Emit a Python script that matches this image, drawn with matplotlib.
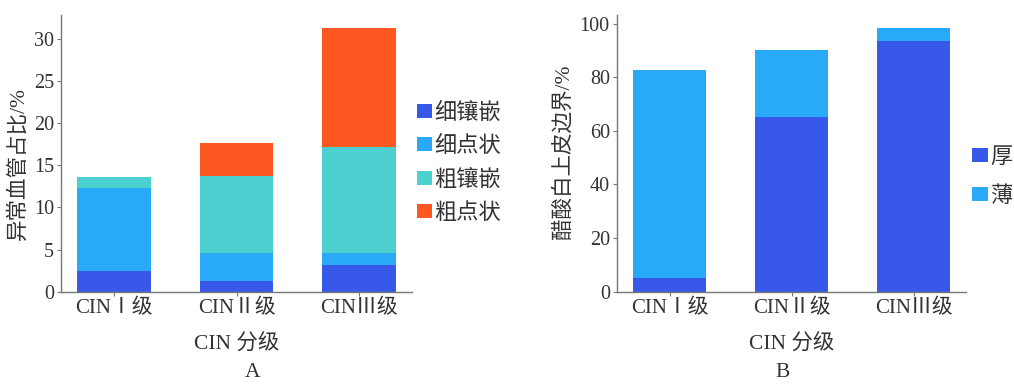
import matplotlib
matplotlib.use('Agg')
import matplotlib.pyplot as plt
import numpy as np

plt.rcParams['font.family'] = ['Liberation Serif', 'Noto Sans CJK SC', 'DejaVu Sans']

grades = ['CINⅠ级', 'CINⅡ级', 'CINⅢ级']

# panel A: abnormal vessel types, stacked
vessel_names = ['细镶嵌', '细点状', '粗镶嵌', '粗点状']
fine_mosaic = [2.45, 1.27, 3.13]
fine_punct = [9.87, 3.28, 1.49]
coarse_mosaic = [1.23, 9.15, 12.53]
coarse_punct = [0.0, 3.95, 14.05]
vessel_colors = ['#3858e9', '#28aaf9', '#4dd1d0', '#fe5722']

# panel B: acetowhite epithelium border
border_names = ['厚', '薄']
thick = [5.0, 65.2, 93.5]
thin = [77.6, 24.9, 4.7]
border_colors = ['#3858e9', '#28aaf9']

text_c = '#333333'
spine_c = '#777777'


def style_axes(ax):
    for s in ['top', 'right']:
        ax.spines[s].set_visible(False)
    for s in ['left', 'bottom']:
        ax.spines[s].set_color(spine_c)
        ax.spines[s].set_linewidth(1.0)
    ax.tick_params(axis='both', colors=spine_c, labelcolor=text_c,
                   length=3, width=0.8, labelsize=14.5, pad=2)
    ax.tick_params(axis='x', labelsize=15)
    ax.set_xlim(-0.434, 2.43)


def stacked(ax, series, colors, names):
    x = np.arange(len(grades))
    bottom = np.zeros(len(grades))
    for vals, c, n in zip(series, colors, names):
        ax.bar(x, vals, 0.6, bottom=bottom, color=c, label=n)
        bottom += np.array(vals)
    ax.set_xticks(x)
    ax.set_xticklabels(grades)


fig = plt.figure(figsize=(10.14, 3.84), dpi=100)

axA = fig.add_axes([0.0602, 0.2404, 0.3458, 0.7206])
stacked(axA, [fine_mosaic, fine_punct, coarse_mosaic, coarse_punct],
        vessel_colors, vessel_names)
style_axes(axA)
axA.set_ylim(0, 32.8)
axA.set_yticks([0, 5, 10, 15, 20, 25, 30])
axA.set_ylabel('异常血管占比/%', fontsize=15.5, color=text_c)
axA.yaxis.set_label_coords(-0.092, 0.465)
axA.set_xlabel('CIN 分级', fontsize=15.5, color=text_c, labelpad=12)
axA.legend(loc='center left', bbox_to_anchor=(0.411, 0.575),
           bbox_transform=fig.transFigure, frameon=False, borderpad=0,
           borderaxespad=0, fontsize=16, handlelength=0.7, handleheight=0.6,
           handletextpad=0.1, labelspacing=0.56, labelcolor=text_c)

axB = fig.add_axes([0.6082, 0.2404, 0.3445, 0.7206])
stacked(axB, [thick, thin], border_colors, border_names)
style_axes(axB)
axB.set_ylim(0, 103.2)
axB.set_yticks([0, 20, 40, 60, 80, 100])
axB.set_ylabel('醋酸白上皮边界/%', fontsize=15.5, color=text_c)
axB.yaxis.set_label_coords(-0.122, 0.505)
axB.set_xlabel('CIN 分级', fontsize=15.5, color=text_c, labelpad=12)
axB.legend(loc='center left', bbox_to_anchor=(0.959, 0.538),
           bbox_transform=fig.transFigure, frameon=False, borderpad=0,
           borderaxespad=0, fontsize=16, handlelength=0.7, handleheight=0.6,
           handletextpad=0.1, labelspacing=0.82, labelcolor=text_c)

fig.text(0.249, 0.005, 'A', fontsize=15.5, color=text_c, ha='center', va='bottom')
fig.text(0.772, 0.005, 'B', fontsize=15.5, color=text_c, ha='center', va='bottom')

fig.savefig('out.png', dpi=100, facecolor='white')
